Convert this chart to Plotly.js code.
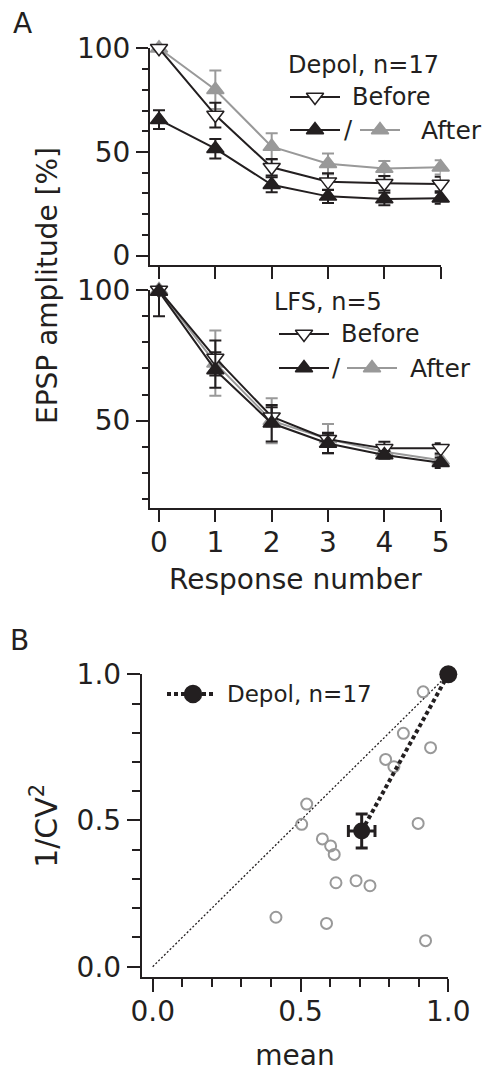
<!DOCTYPE html>
<html><head><meta charset="utf-8">
<script src="https://cdn.plot.ly/plotly-3.0.1.min.js"></script>
<style>html,body{margin:0;padding:0;background:#fff;}#chart{width:488px;height:1072px;}</style>
</head><body><div id="chart"></div>
<script>
// ---------- data ----------
const responseNumber = [0, 1, 2, 3, 4, 5];

// Panel A (top): Depol, n=17
const depolBefore      = [100, 67.8, 42.6, 35.7, 34.9, 34.6];
const depolBeforeErr   = [0, 6.0, 4.0, 4.0, 3.5, 3.5];
const depolAfter       = [65.6, 51.6, 34.2, 28.6, 27.3, 27.7];
const depolAfterErr    = [4.5, 4.7, 3.6, 3.2, 3.0, 2.7];
const depolAfterNorm   = [100, 80.0, 52.6, 44.3, 42.0, 42.6];
const depolAfterNormErr= [0, 9.3, 6.4, 5.0, 3.7, 3.4];

// Panel A (bottom): LFS, n=5
const lfsBefore        = [100, 74.0, 51.5, 42.9, 39.4, 39.4];
const lfsBeforeErrUp   = [0, 6.7, 3.6, 2.5, 2.5, 2.0];
const lfsBeforeErrDown = [10.0, 6.7, 3.6, 2.5, 2.5, 2.0];
const lfsAfter         = [99.4, 69.4, 49.0, 41.3, 36.9, 33.9];
const lfsAfterErr      = [0.6, 6.8, 7.0, 3.7, 1.5, 2.0];
const lfsAfterNorm     = [100, 72.0, 50.0, 43.0, 38.1, 34.9];
const lfsAfterNormErr  = [0, 12.5, 8.6, 5.7, 2.0, 2.0];

// Panel B: normalised mean vs 1/CV^2 (individual cells)
const cellMean  = [0.915, 0.848, 0.940, 0.788, 0.816, 0.521, 0.504, 0.898, 0.574, 0.602, 0.614, 0.620, 0.688, 0.735, 0.417, 0.588, 0.923];
const cellInvCV = [0.940, 0.798, 0.749, 0.709, 0.684, 0.556, 0.487, 0.490, 0.437, 0.413, 0.384, 0.287, 0.294, 0.277, 0.169, 0.148, 0.089];
// population average and control reference
const avgMean = [0.707], avgMeanErr = [0.045];
const avgInvCV = [0.464], avgInvCVErr = [0.058];
const controlMean = [1.0], controlInvCV = [1.0];
const identityX = [0, 1], identityY = [0, 1];

// ---------- styling ----------
const BLACK = '#231f20';
const GRAY = '#999999';
const FONT = 'DejaVu Sans, sans-serif';
const W = 488, H = 1072;
const fx = v => v / W;
const fy = v => 1 - v / H;

const traces = [];

function errObj(arr, minus, color) {
  const o = {type: 'data', array: arr, color: color, thickness: 2, width: 6, visible: true};
  if (minus) { o.symmetric = false; o.arrayminus = minus; } else { o.symmetric = true; }
  return o;
}
function series(x, y, err, errMinus, color, symbol, fill, xa, ya) {
  return {
    type: 'scatter', mode: 'lines+markers', x: x, y: y,
    xaxis: xa, yaxis: ya, cliponaxis: false, showlegend: false,
    line: {color: color, width: 2},
    marker: {symbol: symbol, size: 15, color: fill, line: {color: color, width: 1.5}},
    error_y: errObj(err, errMinus, color)
  };
}

// top panel
traces.push(series(responseNumber, depolAfterNorm, depolAfterNormErr, null, GRAY, 'triangle-up', GRAY, 'x', 'y'));
traces.push(series(responseNumber, depolAfter, depolAfterErr, null, BLACK, 'triangle-up', BLACK, 'x', 'y'));
traces.push(series(responseNumber, depolBefore, depolBeforeErr, null, BLACK, 'triangle-down', '#ffffff', 'x', 'y'));
// bottom panel
traces.push(series(responseNumber, lfsAfterNorm, lfsAfterNormErr, null, GRAY, 'triangle-up', GRAY, 'x2', 'y2'));
traces.push(series(responseNumber, lfsBefore, lfsBeforeErrUp, lfsBeforeErrDown, BLACK, 'triangle-down', '#ffffff', 'x2', 'y2'));
traces.push(series(responseNumber, lfsAfter, lfsAfterErr, null, BLACK, 'triangle-up', BLACK, 'x2', 'y2'));

// panel B
traces.push({type: 'scatter', mode: 'lines', x: identityX, y: identityY, xaxis: 'x3', yaxis: 'y3',
  line: {color: BLACK, width: 1.3, dash: '2px,2px'}, showlegend: false, hoverinfo: 'skip'});
traces.push({type: 'scatter', mode: 'markers', x: cellMean, y: cellInvCV, xaxis: 'x3', yaxis: 'y3',
  cliponaxis: false, showlegend: false,
  marker: {symbol: 'circle-open', size: 11, color: GRAY, line: {color: GRAY, width: 2}}});
traces.push({type: 'scatter', mode: 'lines', x: [avgMean[0], controlMean[0]], y: [avgInvCV[0], controlInvCV[0]],
  xaxis: 'x3', yaxis: 'y3', showlegend: false, line: {color: BLACK, width: 4, dash: '4px,3px'}});
traces.push({type: 'scatter', mode: 'markers', x: avgMean, y: avgInvCV, xaxis: 'x3', yaxis: 'y3',
  cliponaxis: false, showlegend: false,
  marker: {symbol: 'circle', size: 17, color: BLACK},
  error_x: {type: 'data', array: avgMeanErr, color: BLACK, thickness: 3, width: 6},
  error_y: {type: 'data', array: avgInvCVErr, color: BLACK, thickness: 3, width: 6}});
traces.push({type: 'scatter', mode: 'markers', x: controlMean, y: controlInvCV, xaxis: 'x3', yaxis: 'y3',
  cliponaxis: false, showlegend: false, marker: {symbol: 'circle', size: 18, color: BLACK}});

// ---------- hand-made legends (pixel space overlay) ----------
function legLine(x0, x1, y, color, width, dash) {
  traces.push({type: 'scatter', mode: 'lines', x: [x0, x1], y: [y, y], xaxis: 'x4', yaxis: 'y4',
    showlegend: false, hoverinfo: 'skip', cliponaxis: false,
    line: {color: color, width: width, dash: dash || 'solid'}});
}
function legMarker(x, y, symbol, size, fill, color) {
  traces.push({type: 'scatter', mode: 'markers', x: [x], y: [y], xaxis: 'x4', yaxis: 'y4',
    showlegend: false, hoverinfo: 'skip', cliponaxis: false,
    marker: {symbol: symbol, size: size, color: fill, line: {color: color, width: 1.5}}});
}
// top legend
legLine(290, 340, 97, BLACK, 2); legMarker(315, 97, 'triangle-down', 15, '#ffffff', BLACK);
legLine(290, 340, 130, BLACK, 2); legMarker(315, 130, 'triangle-up', 15, BLACK, BLACK);
legLine(360, 400, 130, GRAY, 2); legMarker(380, 130, 'triangle-up', 15, GRAY, GRAY);
// bottom legend
legLine(279, 329, 334, BLACK, 2); legMarker(304, 334, 'triangle-down', 15, '#ffffff', BLACK);
legLine(279, 329, 368, BLACK, 2); legMarker(304, 368, 'triangle-up', 15, BLACK, BLACK);
legLine(347, 397, 368, GRAY, 2); legMarker(372, 368, 'triangle-up', 15, GRAY, GRAY);
// panel B legend
legLine(167, 215, 694, BLACK, 4, '4px,3px'); legMarker(193, 694, 'circle', 17, BLACK, BLACK);

// ---------- axes ----------
const tickFont = {family: FONT, size: 28, color: BLACK};
const titleFont = {family: FONT, size: 28, color: BLACK};
const baseAxis = {
  showline: true, linecolor: BLACK, linewidth: 2, showgrid: false, zeroline: false,
  ticks: 'outside', tickcolor: BLACK, tickwidth: 2, tickfont: tickFont, fixedrange: true
};

const layout = {
  width: W, height: H,
  margin: {l: 0, r: 0, t: 0, b: 0, pad: 0},
  paper_bgcolor: '#ffffff', plot_bgcolor: 'rgba(0,0,0,0)',
  font: {family: FONT, color: BLACK},
  showlegend: false,
  xaxis: Object.assign({}, baseAxis, {domain: [fx(150), fx(440.7)], range: [-0.16, 5], anchor: 'y',
    tickvals: responseNumber, ticklen: 12, showticklabels: false}),
  yaxis: Object.assign({}, baseAxis, {domain: [fy(265), fy(48.3)], range: [-4.5, 100], anchor: 'x',
    tick0: 0, dtick: 50, ticklen: 12, ticklabelstandoff: 0,
    minor: {dtick: 10, ticks: 'outside', ticklen: 6, tickwidth: 2, tickcolor: BLACK}}),
  xaxis2: Object.assign({}, baseAxis, {domain: [fx(150), fx(440.7)], range: [-0.16, 5], anchor: 'y2',
    tickvals: responseNumber, ticklen: 12, ticklabelstandoff: -3,
    title: {text: 'Response number', font: titleFont, standoff: 11}}),
  yaxis2: Object.assign({}, baseAxis, {domain: [fy(507.7), fy(290)], range: [16.7, 100], anchor: 'x2',
    tick0: 0, dtick: 50, ticklen: 12, ticklabelstandoff: 0,
    minor: {dtick: 10, ticks: 'outside', ticklen: 6, tickwidth: 2, tickcolor: BLACK}}),
  xaxis3: Object.assign({}, baseAxis, {domain: [fx(141.7), fx(448.3)], range: [-0.0372, 1], anchor: 'y3',
    tick0: 0, dtick: 0.5, tickformat: '.1f', ticklen: 13, ticklabelstandoff: -5,
    minor: {dtick: 0.1, ticks: 'outside', ticklen: 8, tickwidth: 2, tickcolor: BLACK},
    title: {text: 'mean', font: titleFont, standoff: 18}}),
  yaxis3: Object.assign({}, baseAxis, {domain: [fy(977.3), fy(674.3)], range: [-0.0363, 1], anchor: 'x3',
    tick0: 0, dtick: 0.5, tickformat: '.1f', ticklen: 13, ticklabelstandoff: 0,
    minor: {dtick: 0.1, ticks: 'outside', ticklen: 8, tickwidth: 2, tickcolor: BLACK},
    title: {text: '1/CV<sup>2</sup>', font: {family: FONT, size: 30, color: BLACK}, standoff: 10}}),
  xaxis4: {domain: [0, 1], range: [0, W], anchor: 'y4', visible: false, fixedrange: true},
  yaxis4: {domain: [0, 1], range: [H, 0], anchor: 'x4', visible: false, fixedrange: true},
  annotations: [
    {text: 'A', x: fx(11), y: fy(24), xref: 'paper', yref: 'paper', xanchor: 'left', yanchor: 'middle',
     showarrow: false, font: {family: FONT, size: 28, color: BLACK}},
    {text: 'B', x: fx(8), y: fy(640), xref: 'paper', yref: 'paper', xanchor: 'left', yanchor: 'middle',
     showarrow: false, font: {family: FONT, size: 28, color: BLACK}},
    {text: 'EPSP amplitude [%]', x: fx(47), y: fy(286), xref: 'paper', yref: 'paper', textangle: -90,
     xanchor: 'center', yanchor: 'middle', showarrow: false, font: titleFont},
    // top legend texts
    {text: 'Depol, n=17', x: fx(286), y: fy(65), xref: 'paper', yref: 'paper', xanchor: 'left', yanchor: 'middle',
     showarrow: false, font: {family: FONT, size: 24, color: BLACK}},
    {text: 'Before', x: fx(350), y: fy(97), xref: 'paper', yref: 'paper', xanchor: 'left', yanchor: 'middle',
     showarrow: false, font: {family: FONT, size: 24, color: BLACK}},
    {text: '/', x: fx(348), y: fy(130), xref: 'paper', yref: 'paper', xanchor: 'center', yanchor: 'middle',
     showarrow: false, font: {family: FONT, size: 24, color: BLACK}},
    {text: 'After', x: fx(419), y: fy(130), xref: 'paper', yref: 'paper', xanchor: 'left', yanchor: 'middle',
     showarrow: false, font: {family: FONT, size: 25, color: BLACK}},
    // bottom legend texts
    {text: 'LFS, n=5', x: fx(272), y: fy(302), xref: 'paper', yref: 'paper', xanchor: 'left', yanchor: 'middle',
     showarrow: false, font: {family: FONT, size: 24, color: BLACK}},
    {text: 'Before', x: fx(339), y: fy(334), xref: 'paper', yref: 'paper', xanchor: 'left', yanchor: 'middle',
     showarrow: false, font: {family: FONT, size: 24, color: BLACK}},
    {text: '/', x: fx(336), y: fy(368), xref: 'paper', yref: 'paper', xanchor: 'center', yanchor: 'middle',
     showarrow: false, font: {family: FONT, size: 24, color: BLACK}},
    {text: 'After', x: fx(408), y: fy(368), xref: 'paper', yref: 'paper', xanchor: 'left', yanchor: 'middle',
     showarrow: false, font: {family: FONT, size: 25, color: BLACK}},
    // panel B legend text
    {text: 'Depol, n=17', x: fx(225), y: fy(694), xref: 'paper', yref: 'paper', xanchor: 'left', yanchor: 'middle',
     showarrow: false, font: {family: FONT, size: 23, color: BLACK}}
  ]
};

Plotly.newPlot('chart', traces, layout, {staticPlot: true, displayModeBar: false});
</script>
</body></html>
